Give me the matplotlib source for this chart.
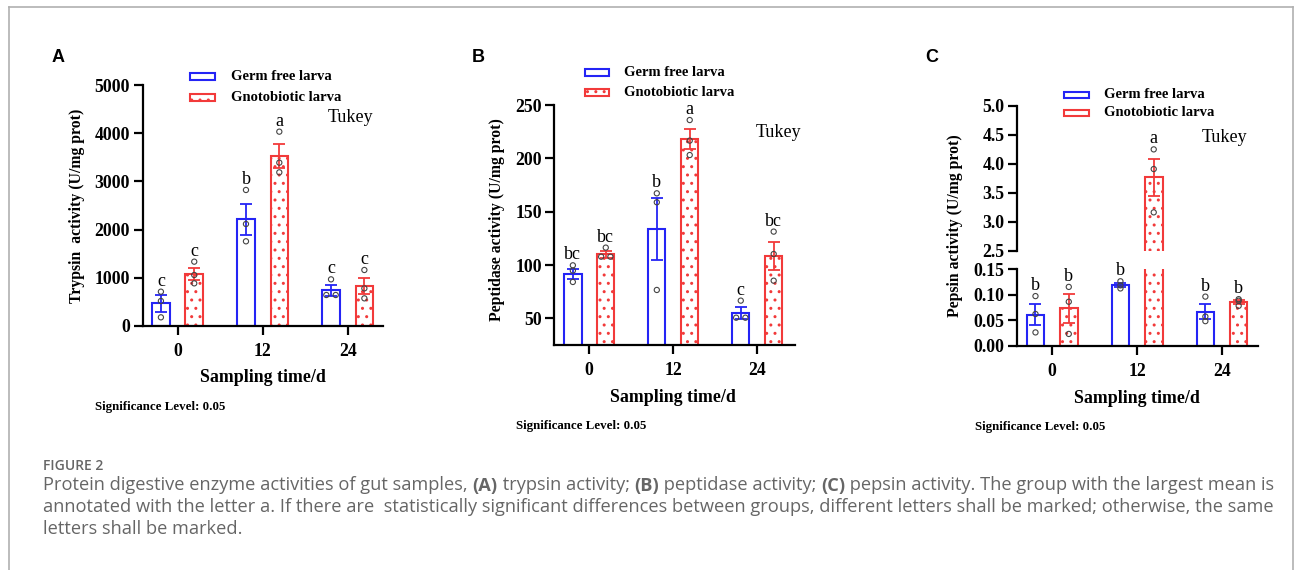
import matplotlib
matplotlib.use('Agg')
import matplotlib.pyplot as plt
import numpy as np
from matplotlib.lines import Line2D
from matplotlib.patches import Rectangle

W, H = 1295, 570
fig = plt.figure(figsize=(W / 100, H / 100), dpi=100)
plt.rcParams['hatch.linewidth'] = 1.0

SERIF = 'Liberation Serif'
SANS = 'Liberation Sans'
BLUE = '#2424F5'
RED = '#F23A3A'

days = ['0', '12', '24']
series = ['Germ free larva', 'Gnotobiotic larva']

# ---- Panel A: trypsin ----
tryp_gf_mean = [470, 2213, 740]
tryp_gf_se = [173, 315, 108]
tryp_gf_pts = [[712, 519, 180], [2822, 2116, 1757], [968, 643, 643]]
tryp_gn_mean = [1079, 3527, 830]
tryp_gn_se = [132, 253, 173]
tryp_gn_pts = [[1335, 1058, 885], [4032, 3389, 3188], [1162, 781, 574]]
tryp_gf_let = ['c', 'b', 'c']
tryp_gn_let = ['c', 'a', 'c']

# ---- Panel B: peptidase ----
pep_gf_mean = [91.6, 133.4, 55.0]
pep_gf_se = [4.7, 29.0, 5.5]
pep_gf_pts = [[99.7, 94.7, 84.1], [167.2, 158.8, 76.6], [66.6, 50.6, 50.6]]
pep_gn_mean = [110.0, 218.1, 108.4]
pep_gn_se = [3.4, 9.6, 13.3]
pep_gn_pts = [[116.3, 107.8, 107.8], [235.9, 216.6, 203.1], [131.3, 110.3, 85.3]]
pep_gf_let = ['bc', 'b', 'c']
pep_gn_let = ['bc', 'a', 'bc']

# ---- Panel C: pepsin ----
pepsin_gf_mean = [0.061, 0.119, 0.0665]
pepsin_gf_se = [0.0205, 0.004, 0.0145]
pepsin_gf_pts = [[0.097, 0.062, 0.026], [0.126, 0.112, 0.118], [0.096, 0.048, 0.057]]
pepsin_gn_mean = [0.073, 3.764, 0.0854]
pepsin_gn_se = [0.028, 0.322, 0.004]
pepsin_gn_pts = [[0.115, 0.086, 0.023], [4.247, 3.908, 3.161], [0.091, 0.078, 0.088]]
pepsin_gf_let = ['b', 'b', 'b']
pepsin_gn_let = ['b', 'a', 'b']

OFF = 0.196
BW = 0.207
HATCH = '..'


def ax_px(x0, y0, x1, y1):
    return fig.add_axes([x0 / W, 1 - y1 / H, (x1 - x0) / W, (y1 - y0) / H])


def jitter(vals, frac):
    vals = list(vals)
    offs = [0.0] * len(vals)
    for i in range(len(vals)):
        for j in range(i + 1, len(vals)):
            if abs(vals[i] - vals[j]) < frac:
                offs[i] = -0.055
                offs[j] = 0.055
    return offs


def draw_group(ax, xs, means, ses, pts, lets, color, hatch, tol):
    if hatch:
        ax.bar(xs, means, width=BW, facecolor='white', edgecolor=color,
               hatch=HATCH, linewidth=1.5, zorder=2)
    else:
        ax.bar(xs, means, width=BW, facecolor='white', edgecolor=color,
               linewidth=1.5, zorder=2)
    ax.errorbar(xs, means, yerr=ses, fmt='none', ecolor=color, elinewidth=1.3,
                capsize=4.5, capthick=1.3, zorder=3)
    for x, p, m, s, l in zip(xs, pts, means, ses, lets):
        offs = jitter(p, tol)
        ax.scatter([x + o for o in offs], p, s=14, facecolors='none',
                   edgecolors='#444444', linewidths=0.8, zorder=4)
        top = max(max(p), m + s)
        ax.annotate(l, (x, top), xytext=(0, 7.5), textcoords='offset points',
                    ha='center', va='center', fontsize=13, family=SERIF,
                    color='black', zorder=5)


def style_axis(ax, xlim, ylim, yticks, fmt, show_x=True):
    ax.set_xlim(*xlim)
    ax.set_ylim(*ylim)
    for s in ['top', 'right']:
        ax.spines[s].set_visible(False)
    for s in ['left', 'bottom']:
        ax.spines[s].set_linewidth(1.6)
    ax.set_yticks(yticks)
    ax.set_yticklabels([fmt % v for v in yticks])
    ax.tick_params(axis='y', length=6.5, width=1.6, pad=2.5, labelsize=12.8)
    if show_x:
        ax.set_xticks(range(len(days)))
        ax.set_xticklabels(days)
        ax.tick_params(axis='x', length=6.5, width=1.6, pad=6, labelsize=12.8)
    else:
        ax.spines['bottom'].set_visible(False)
        ax.set_xticks([])
    for lab in ax.get_xticklabels() + ax.get_yticklabels():
        lab.set_family(SERIF)
        lab.set_fontweight('bold')


def fig_text(x, y, s, **kw):
    return fig.text(x / W, 1 - y / H, s, **kw)


def legend(x0, x1, y_rows, tx):
    for (y, lab, col, hatch) in zip(y_rows, series, [BLUE, RED], [None, HATCH]):
        r = Rectangle((x0 / W, 1 - (y + 3.3) / H), (x1 - x0) / W, 6.6 / H,
                      transform=fig.transFigure, facecolor='white', edgecolor=col,
                      linewidth=1.5, hatch=hatch)
        fig.add_artist(r)
        fig_text(tx, y, lab, ha='left', va='center', fontsize=10.5,
                 family=SERIF, fontweight='bold')


YL = 11.3
XL = 12.9
SIG = 9.3

xs = np.arange(len(days))

# Panel A
axA = ax_px(142.7, 85, 383, 326)
draw_group(axA, xs - OFF, tryp_gf_mean, tryp_gf_se, tryp_gf_pts, tryp_gf_let, BLUE, False, 30)
draw_group(axA, xs + OFF, tryp_gn_mean, tryp_gn_se, tryp_gn_pts, tryp_gn_let, RED, True, 30)
style_axis(axA, (-0.41, 2.415), (0, 5000), [0, 1000, 2000, 3000, 4000, 5000], '%d')
fig_text(77, 206, 'Trypsin  activity (U/mg prot)', rotation=90, ha='center', va='center',
         fontsize=YL, family=SERIF, fontweight='bold')
fig_text(263, 378, 'Sampling time/d', ha='center', va='center', fontsize=XL,
         family=SERIF, fontweight='bold')
fig_text(95, 407, 'Significance Level: 0.05', ha='left', va='center', fontsize=SIG,
         family=SERIF, fontweight='bold')
fig_text(350, 117, 'Tukey', ha='center', va='center', fontsize=13, family=SERIF)
fig_text(52, 58, 'A', ha='left', va='center', fontsize=13, family=SANS, fontweight='bold')
legend(190, 215, [76.7, 97.3], 230.7)

# Panel B
axB = ax_px(554.3, 105, 795, 345)
draw_group(axB, xs - OFF, pep_gf_mean, pep_gf_se, pep_gf_pts, pep_gf_let, BLUE, False, 1)
draw_group(axB, xs + OFF, pep_gn_mean, pep_gn_se, pep_gn_pts, pep_gn_let, RED, True, 1)
style_axis(axB, (-0.417, 2.45), (25, 250), [50, 100, 150, 200, 250], '%d')
fig_text(497, 220, 'Peptidase activity (U/mg prot)', rotation=90, ha='center', va='center',
         fontsize=YL, family=SERIF, fontweight='bold')
fig_text(673, 398, 'Sampling time/d', ha='center', va='center', fontsize=XL,
         family=SERIF, fontweight='bold')
fig_text(516, 425.7, 'Significance Level: 0.05', ha='left', va='center', fontsize=SIG,
         family=SERIF, fontweight='bold')
fig_text(778.5, 132.7, 'Tukey', ha='center', va='center', fontsize=13, family=SERIF)
fig_text(472, 57, 'B', ha='left', va='center', fontsize=13, family=SANS, fontweight='bold')
legend(585, 609.3, [72.3, 92.3], 624.3)

# Panel C (broken axis)
axCu = ax_px(1017.3, 105.7, 1257.7, 250.7)
axCl = ax_px(1017.3, 269, 1257.7, 345.7)
for ax in (axCu, axCl):
    draw_group(ax, xs - OFF, pepsin_gf_mean, pepsin_gf_se, pepsin_gf_pts, pepsin_gf_let, BLUE, False, 0.002)
    draw_group(ax, xs + OFF, pepsin_gn_mean, pepsin_gn_se, pepsin_gn_pts, pepsin_gn_let, RED, True, 0.002)
style_axis(axCu, (-0.41, 2.42), (2.5, 5.0), [2.5, 3.0, 3.5, 4.0, 4.5, 5.0], '%.1f', show_x=False)
style_axis(axCl, (-0.41, 2.42), (0, 0.15), [0.0, 0.05, 0.10, 0.15], '%.2f')
fig_text(955, 226, 'Pepsin activity (U/mg prot)', rotation=90, ha='center', va='center',
         fontsize=YL, family=SERIF, fontweight='bold')
fig_text(1136.7, 398.3, 'Sampling time/d', ha='center', va='center', fontsize=XL,
         family=SERIF, fontweight='bold')
fig_text(975, 426.7, 'Significance Level: 0.05', ha='left', va='center', fontsize=SIG,
         family=SERIF, fontweight='bold')
fig_text(1225, 137.7, 'Tukey', ha='center', va='center', fontsize=13, family=SERIF)
fig_text(925, 58, 'C', ha='left', va='center', fontsize=13, family=SANS, fontweight='bold')
legend(1064.3, 1089.3, [95, 113], 1104.3)

# Frame
for (xa, ya) in [((9, 9), (7, 570)), ((9, 1293), (7, 7)), ((1293, 1293), (7, 570))]:
    fig.add_artist(Line2D([x / W for x in xa], [1 - y / H for y in ya],
                          transform=fig.transFigure, color='#b0b0b0', linewidth=1.2))

# Caption
CAP_COLOR = '#666666'
CAP_FONT = 'Open Sans'
CAP_X = 43
fig_text(CAP_X, 470.5, 'FIGURE 2', ha='left', va='baseline', fontsize=10, family=CAP_FONT,
         fontweight='semibold', color=CAP_COLOR)
lines = [
    [('Protein digestive enzyme activities of gut samples, ', False), ('(A)', True),
     (' trypsin activity; ', False), ('(B)', True), (' peptidase activity; ', False),
     ('(C)', True), (' pepsin activity. The group with the largest mean is', False)],
    [('annotated with the letter a. If there are  statistically significant differences between groups, different letters shall be marked; otherwise, the same', False)],
    [('letters shall be marked.', False)],
]
renderer = fig.canvas.get_renderer()


def line_width(segs, size):
    w = 0
    for txt, b in segs:
        t = fig.text(0, 0, txt, fontsize=size, family=CAP_FONT,
                     fontweight='bold' if b else 'normal')
        w += t.get_window_extent(renderer=renderer).width
        t.remove()
    return w


base = 11
wl = line_width(lines[0], base)
size = base * 1233 / wl
for segs, yb in zip(lines, [490.5, 512, 534]):
    x = CAP_X
    for txt, b in segs:
        t = fig_text(x, yb, txt, ha='left', va='baseline', fontsize=size, family=CAP_FONT,
                     fontweight='bold' if b else 'normal', color=CAP_COLOR)
        x += t.get_window_extent(renderer=renderer).width

fig.savefig('out.png', dpi=100)
